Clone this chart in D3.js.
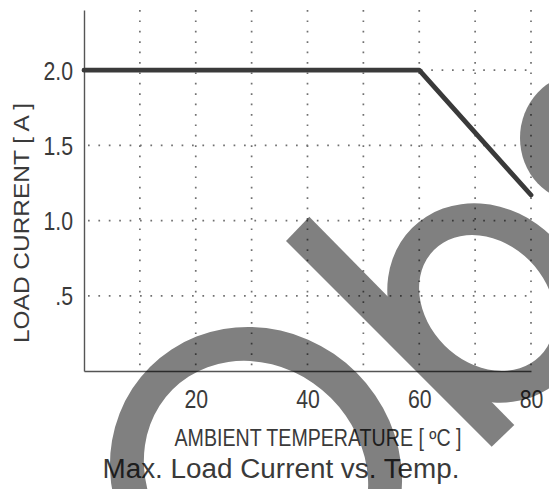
<!DOCTYPE html>
<html>
<head>
<meta charset="utf-8">
<script src="https://cdn.jsdelivr.net/npm/d3@7"></script>
<style>
  html, body { margin: 0; padding: 0; background: #fff; }
  svg { display: block; font-family: "Liberation Sans", Arial, sans-serif; }
</style>
</head>
<body>
<div id="chart"></div>
<script>
// derating curve: ambient temperature [ºC] vs max load current [A]
const temps = [0, 60, 80];
const currents = [2.0, 2.0, 1.17];

const xTicks = [20, 40, 60, 80];
const xGrid = [10, 20, 30, 40, 50, 60, 70, 80];
const yTicks = [0.5, 1.0, 1.5, 2.0];
const yTickLabels = ['.5', '1.0', '1.5', '2.0'];

const xTitle = 'AMBIENT TEMPERATURE [ ºC ]';
const yTitle = 'LOAD CURRENT [ A ]';
const chartTitle = 'Max. Load Current vs. Temp.';

const width = 549;
const height = 489;
const ink = '#3a3a3a';

const svg = d3.select('#chart')
  .append('svg')
  .attr('width', width)
  .attr('height', height);

const x = d3.scaleLinear().domain([0, 80]).range([84, 531]);
const y = d3.scaleLinear().domain([0, 2.4]).range([371, 10]);

/* dotted grid */
const grid = svg.append('g')
  .attr('stroke', '#707070')
  .attr('stroke-width', 1.7)
  .attr('stroke-dasharray', '1.7,8.7');

grid.selectAll('.vgrid')
  .data(xGrid)
  .enter()
  .append('line')
  .attr('x1', d => x(d))
  .attr('x2', d => x(d))
  .attr('y1', y(2.4))
  .attr('y2', y(0));

grid.selectAll('.hgrid')
  .data(yTicks)
  .enter()
  .append('line')
  .attr('x1', x(0) + 4)
  .attr('x2', x(80))
  .attr('y1', d => y(d))
  .attr('y2', d => y(d));

/* axes */
const xAxis = svg.append('g')
  .attr('transform', `translate(0,${y(0)})`)
  .call(d3.axisBottom(x).tickValues(xTicks).tickSize(0).tickPadding(19));

const yAxis = svg.append('g')
  .attr('transform', `translate(${x(0)},0)`)
  .call(d3.axisLeft(y).tickValues(yTicks).tickSize(0).tickPadding(11)
    .tickFormat((d, i) => yTickLabels[i]));

[xAxis, yAxis].forEach(a => {
  a.select('.domain').attr('stroke', '#555').attr('stroke-width', 1.4);
  a.selectAll('text')
    .attr('fill', ink)
    .attr('font-size', 25)
    .attr('font-family', '"Liberation Sans", Arial, sans-serif');
});
xAxis.selectAll('text').attr('dy', '0.71em');
yAxis.selectAll('text').attr('dy', '0.36em');

/* derating line */
const line = d3.line()
  .x((d, i) => x(temps[i]))
  .y(d => y(d));

svg.append('path')
  .datum(currents)
  .attr('d', line)
  .attr('fill', 'none')
  .attr('stroke', ink)
  .attr('stroke-width', 4.8)
  .attr('stroke-linecap', 'round')
  .attr('stroke-linejoin', 'round');

/* titles */
svg.append('text')
  .attr('x', 318)
  .attr('y', 446)
  .attr('text-anchor', 'middle')
  .attr('font-size', 23)
  .attr('fill', ink)
  .attr('textLength', 287)
  .attr('lengthAdjust', 'spacingAndGlyphs')
  .text(xTitle);

svg.append('text')
  .attr('transform', 'translate(29,223) rotate(-90)')
  .attr('text-anchor', 'middle')
  .attr('font-size', 22)
  .attr('fill', ink)
  .attr('textLength', 240)
  .attr('lengthAdjust', 'spacingAndGlyphs')
  .text(yTitle);

svg.append('text')
  .attr('x', 281)
  .attr('y', 478)
  .attr('text-anchor', 'middle')
  .attr('font-size', 27)
  .attr('fill', ink)
  .attr('textLength', 357)
  .attr('lengthAdjust', 'spacingAndGlyphs')
  .text(chartTitle);

// the tick type in the picture is a narrow face, squeeze the glyphs a bit
function squeeze(sel, k) {
  sel.each(function() {
    const w = this.getComputedTextLength();
    d3.select(this).attr('textLength', w * k).attr('lengthAdjust', 'spacingAndGlyphs');
  });
}
squeeze(xAxis.selectAll('text'), 0.85);
squeeze(yAxis.selectAll('text'), 0.85);

/* watermark overlay (letters "obs", half transparent) */
const mark = svg.append('g').attr('opacity', 0.5).attr('fill', '#000');

function ellipsePath(cx, cy, rx, ry) {
  return `M${cx - rx},${cy}a${rx},${ry} 0 1,0 ${2 * rx},0a${rx},${ry} 0 1,0 ${-2 * rx},0Z`;
}

// "o"
mark.append('path')
  .attr('transform', 'translate(256,473) rotate(45)')
  .attr('fill-rule', 'evenodd')
  .attr('d', ellipsePath(0, 0, 150, 142) + ellipsePath(0, 0, 118, 106));

// "b": stem + bowl
mark.append('path')
  .attr('d', 'M286,241L309.3,216.7L514.3,425L491.7,446.7Z');
mark.append('path')
  .attr('transform', 'translate(487,303) rotate(45)')
  .attr('fill-rule', 'evenodd')
  .attr('d', ellipsePath(0, 0, 106, 93) + ellipsePath(0, 0, 75, 60));

// start of "s"
mark.append('ellipse')
  .attr('cx', 580)
  .attr('cy', 138)
  .attr('rx', 60)
  .attr('ry', 64);
</script>
</body>
</html>
